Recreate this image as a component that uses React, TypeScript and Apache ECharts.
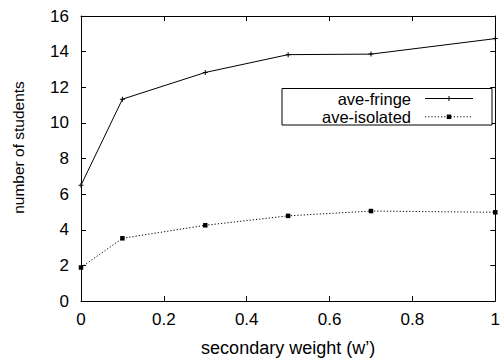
import React, { useEffect, useRef } from "react";
import * as echarts from "echarts";

const weights = [0, 0.1, 0.3, 0.5, 0.7, 1.0];
const aveFringe = [6.5, 11.33, 12.83, 13.83, 13.86, 14.73];
const aveIsolated = [1.88, 3.52, 4.25, 4.78, 5.05, 4.98];
const seriesNames = ["ave-fringe", "ave-isolated"];
const xTitle = "secondary weight (w\u2019)";
const yTitle = "number of students";

const FONT = "'Liberation Sans', Arial, Helvetica, sans-serif";
const PLUS = "path://M0,2H2V0H3V2H5V3H3V5H2V3H0Z";

export default function App() {
  const ref = useRef<HTMLDivElement>(null);
  useEffect(() => {
    document.body.style.margin = "0";
    const chart = echarts.init(ref.current!, null, { renderer: "svg" });
    const axisCommon = {
      axisLine: { show: true, onZero: false, lineStyle: { color: "#000", width: 1 } },
      axisTick: { show: true, inside: true, length: 5, lineStyle: { color: "#000", width: 1 } },
      splitLine: { show: false },
    };
    const legendY = [98.5, 116.8];
    const lx1 = 425, lx2 = 473, lxm = 449;
    chart.setOption({
      animation: false,
      backgroundColor: "#fff",
      textStyle: { fontFamily: FONT },
      grid: { left: 81, right: 7, top: 16, bottom: 56, containLabel: false },
      xAxis: [
        {
          type: "value", min: 0, max: 1, interval: 0.2, position: "bottom",
          ...axisCommon,
          axisLabel: { color: "#000", fontSize: 17, margin: 10, fontFamily: FONT },
          name: xTitle, nameLocation: "middle", nameGap: 38,
          nameTextStyle: { color: "#000", fontSize: 18, fontFamily: FONT },
        },
        {
          type: "value", min: 0, max: 1, interval: 0.2, position: "top",
          ...axisCommon, axisLabel: { show: false },
        },
      ],
      yAxis: [
        {
          type: "value", min: 0, max: 16, interval: 2, position: "left",
          ...axisCommon,
          axisLabel: { color: "#000", fontSize: 17, margin: 12, fontFamily: FONT },
        },
        {
          type: "value", min: 0, max: 16, interval: 2, position: "right",
          ...axisCommon, axisLabel: { show: false },
        },
      ],
      series: [
        {
          name: seriesNames[0], type: "line",
          data: weights.map((w, i) => [w, aveFringe[i]]),
          symbol: PLUS, symbolSize: 5,
          itemStyle: { color: "#000" },
          lineStyle: { color: "#000", width: 1 },
        },
        {
          name: seriesNames[1], type: "line",
          data: weights.map((w, i) => [w, aveIsolated[i]]),
          symbol: "rect", symbolSize: 4.5,
          itemStyle: { color: "#000" },
          lineStyle: { color: "#000", width: 1, type: [1.2, 2] },
        },
      ],
      graphic: [
        {
          type: "text", x: 18, y: 147.5, rotation: Math.PI / 2, z: 101,
          style: { text: yTitle, fill: "#000", font: `15.5px ${FONT}`, align: "center", verticalAlign: "middle" },
        },
        {
          type: "rect", shape: { x: 282, y: 88.5, width: 210, height: 36.5 },
          style: { fill: "#fff", stroke: "#000", lineWidth: 1 }, z: 100,
        },
        ...seriesNames.map((n, i) => ({
          type: "text", x: 411, y: legendY[i], z: 101,
          style: { text: n, fill: "#000", font: `16.5px ${FONT}`, align: "right", verticalAlign: "middle" },
        })),
        {
          type: "line", z: 101, shape: { x1: lx1, y1: legendY[0], x2: lx2, y2: legendY[0] },
          style: { stroke: "#000", lineWidth: 1 },
        },
        {
          type: "line", z: 101, shape: { x1: lx1, y1: legendY[1], x2: lx2, y2: legendY[1] },
          style: { stroke: "#000", lineWidth: 1, lineDash: [1.2, 2] },
        },
        {
          type: "polygon", z: 102,
          shape: { points: [[lxm - 2.5, legendY[0] - 0.5], [lxm - 0.5, legendY[0] - 0.5], [lxm - 0.5, legendY[0] - 2.5], [lxm + 0.5, legendY[0] - 2.5], [lxm + 0.5, legendY[0] - 0.5], [lxm + 2.5, legendY[0] - 0.5], [lxm + 2.5, legendY[0] + 0.5], [lxm + 0.5, legendY[0] + 0.5], [lxm + 0.5, legendY[0] + 2.5], [lxm - 0.5, legendY[0] + 2.5], [lxm - 0.5, legendY[0] + 0.5], [lxm - 2.5, legendY[0] + 0.5]] },
          style: { fill: "#000" },
        },
        {
          type: "rect", z: 102, shape: { x: lxm - 2.25, y: legendY[1] - 2.25, width: 4.5, height: 4.5 },
          style: { fill: "#000" },
        },
      ],
    });
    return () => chart.dispose();
  }, []);
  return <div ref={ref} style={{ position: "absolute", left: 0, top: 0, width: 503, height: 362 }} />;
}
